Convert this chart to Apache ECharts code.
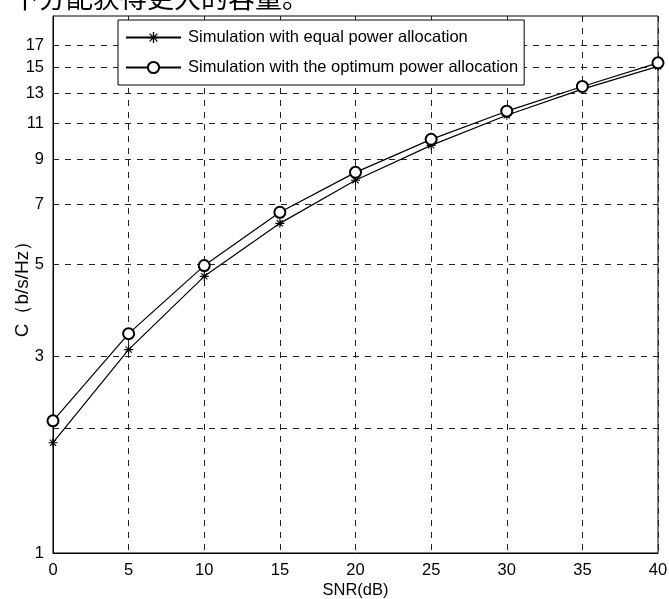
<!DOCTYPE html>
<html>
<head>
<meta charset="utf-8">
<script src="https://cdn.jsdelivr.net/npm/echarts@6/dist/echarts.min.js"></script>
<style>
  html, body { margin: 0; padding: 0; background: #fff; }
  #chart { width: 669px; height: 599px; }
</style>
</head>
<body>
<div id="chart"></div>
<script>
// SNR 横轴
const snr = [0, 5, 10, 15, 20, 25, 30, 35, 40];
// 等功率分配
const equalPower = [1.85, 3.11, 4.68, 6.29, 8.0, 9.72, 11.5, 13.3, 15.1];
// 最优功率分配
const optimumPower = [2.09, 3.40, 4.97, 6.69, 8.36, 10.05, 11.76, 13.5, 15.4];
// 纵轴刻度
const yLabels = [1, 3, 5, 7, 9, 11, 13, 15, 17];
const yGrid = [2, 3, 5, 7, 9, 11, 13, 15, 17];

const names = ['Simulation with equal power allocation', 'Simulation with the optimum power allocation'];

// 星号标记
const starPath = 'path://M-0.6,-5 L0.6,-5 L0.6,5 L-0.6,5 Z M-5,-0.6 L5,-0.6 L5,0.6 L-5,0.6 Z ' +
  'M-3.9,-3.05 L-3.05,-3.9 L3.9,3.05 L3.05,3.9 Z M3.05,-3.9 L3.9,-3.05 L-3.05,3.9 L-3.9,3.05 Z';

const chart = echarts.init(document.getElementById('chart'));

const font = 'Liberation Sans, Arial, sans-serif';
const dashed = { show: true, lineStyle: { color: '#222', type: [6, 6], width: 1 } };

const option = {
  animation: false,
  backgroundColor: '#fff',
  textStyle: { fontFamily: font },
  graphic: [{
    type: 'text',
    left: 12,
    top: -16,
    style: { text: '下分配获得更大的容量。', fontSize: 27, fill: '#000', fontFamily: 'Noto Sans CJK SC' }
  }],
  grid: {
    left: 53, right: 11, top: 16, bottom: 46,
    outerBoundsMode: 'none',
    containLabel: false,
    show: true, borderColor: '#000', borderWidth: 1
  },
  legend: {
    orient: 'vertical',
    left: 118, top: 20,
    backgroundColor: '#fff',
    borderColor: '#000', borderWidth: 1, borderRadius: 0,
    padding: [9, 6, 9, 7],
    itemWidth: 55, itemHeight: 14, itemGap: 13,
    textStyle: { fontSize: 16.5, color: '#000', fontFamily: font, padding: [0, 0, 0, 2] },
    data: names
  },
  xAxis: {
    type: 'value',
    min: 0, max: 40, interval: 5,
    name: 'SNR(dB)',
    nameLocation: 'middle', nameGap: 29,
    nameMoveOverlap: false,
    nameTextStyle: { fontSize: 16.5, color: '#000' },
    axisLine: { lineStyle: { color: '#000' } },
    axisTick: { show: false },
    axisLabel: { fontSize: 16.5, color: '#000', margin: 9 },
    splitLine: dashed
  },
  yAxis: {
    type: 'log',
    logBase: 10,
    min: 1, max: 20,
    name: 'C（b/s/Hz）',
    nameLocation: 'middle', nameGap: 21,
    nameMoveOverlap: false,
    nameTextStyle: { fontSize: 19, color: '#000' },
    axisLine: { show: true, lineStyle: { color: '#000' } },
    axisTick: { show: false, customValues: yGrid },
    axisLabel: { customValues: yLabels, fontSize: 16.5, color: '#000', margin: 9 },
    splitLine: dashed
  },
  series: [
    {
      name: names[0],
      type: 'line',
      data: snr.map((x, i) => [x, equalPower[i]]),
      symbol: starPath,
      symbolSize: 9,
      itemStyle: { color: '#000' },
      lineStyle: { color: '#000', width: 1.2 }
    },
    {
      name: names[1],
      type: 'line',
      data: snr.map((x, i) => [x, optimumPower[i]]),
      symbol: 'emptyCircle',
      symbolSize: 11,
      itemStyle: { color: '#000', borderWidth: 1 },
      lineStyle: { color: '#000', width: 1.2 }
    }
  ]
};

chart.setOption(option);
</script>
</body>
</html>
